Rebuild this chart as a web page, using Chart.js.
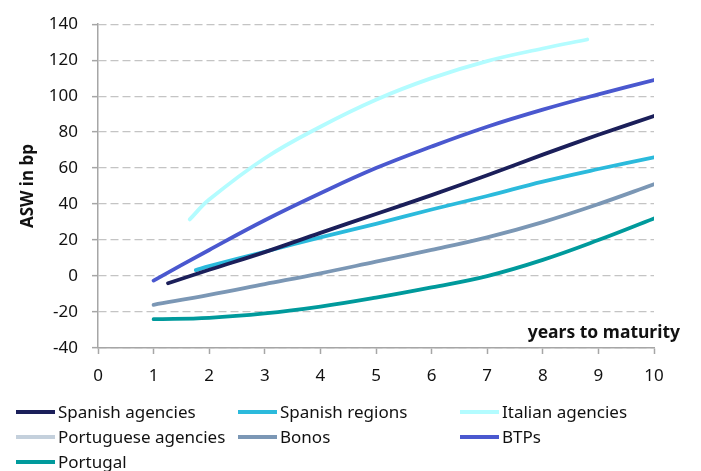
<!DOCTYPE html>
<html lang="en">
<head>
  <meta charset="UTF-8" />
  <title>ASW curves</title>
  <script src="https://cdn.jsdelivr.net/npm/chart.js"></script>
  <style>
    body { margin: 0; background: #fff; }
    #wrap { position: relative; width: 701px; height: 471px; font-family: "Noto Sans", sans-serif; color: #111; }
    #wrap canvas { position: absolute; left: 0; top: 0; }
    #xtitle { position: absolute; right: 21px; top: 319px; font-weight: bold; font-size: 17.5px; line-height: 24px; }
    #legend { position: absolute; left: 16px; top: 399px; display: grid; grid-template-columns: 222px 222px 222px; font-size: 17px; }
    .item { display: flex; align-items: center; height: 25px; white-space: nowrap; }
    .swatch { width: 39px; height: 4px; margin-right: 3px; flex: none; }
  </style>
</head>
<body>
  <div id="wrap">
    <canvas id="aswChart" width="701" height="471"></canvas>
    <div id="xtitle">years to maturity</div>
    <div id="legend"></div>
  </div>

  <script>
    // maturities (years) and ASW levels (bp)
    const years = [1, 2, 3, 4, 5, 6, 7, 8, 9, 10];

    const spanishAgenciesX = [1.26, 2, 3, 4, 5, 6, 7, 8, 9, 10];
    const spanishAgencies = [-4, 3.5, 13.3, 24, 34.5, 45, 56, 67.5, 78.5, 89];

    const spanishRegionsX = [1.76, 2, 3, 4, 5, 6, 7, 8, 9, 10];
    const spanishRegions = [3.3, 5.5, 13.5, 21.5, 29, 37, 44.5, 52.5, 59.5, 66];

    const italianAgenciesX = [1.65, 2, 3, 4, 5, 6, 7, 8, 8.8];
    const italianAgencies = [31.5, 42.5, 65.5, 83, 98, 110, 119.5, 126.5, 131.5];

    const portugueseAgenciesX = [];
    const portugueseAgencies = [];

    const bonos = [-16, -10.5, -4.5, 1.5, 8, 14.5, 21.5, 30, 40, 51];
    const btps = [-2.5, 14.5, 31, 46, 60, 72, 83, 92.5, 101, 109];
    const portugal = [-24, -23.2, -20.8, -17, -12, -6.3, 0, 9, 20, 32];

    const yTicks = [-40, -20, 0, 20, 40, 60, 80, 100, 120, 140];

    function pts(xs, ys) {
      return ys.map((v, i) => ({ x: xs[i], y: v }));
    }

    const series = [
      { label: "Spanish agencies", data: pts(spanishAgenciesX, spanishAgencies), color: "#1b1f5a" },
      { label: "Spanish regions", data: pts(spanishRegionsX, spanishRegions), color: "#2bbadc" },
      { label: "Italian agencies", data: pts(italianAgenciesX, italianAgencies), color: "#b3fcff" },
      { label: "Portuguese agencies", data: pts(portugueseAgenciesX, portugueseAgencies), color: "#c4d0dc" },
      { label: "Bonos", data: pts(years, bonos), color: "#7b97b5" },
      { label: "BTPs", data: pts(years, btps), color: "#4a58cf" },
      { label: "Portugal", data: pts(years, portugal), color: "#009a9c" }
    ];

    const tickFont = { family: "Noto Sans", size: 17 };

    const ctx = document.getElementById("aswChart").getContext("2d");
    const chart = new Chart(ctx, {
      type: "line",
      data: {
        datasets: series.map(s => ({
          label: s.label,
          data: s.data,
          borderColor: s.color,
          backgroundColor: s.color,
          borderWidth: 3.8,
          borderCapStyle: "round",
          pointRadius: 0,
          tension: 0.4,
          fill: false
        }))
      },
      options: {
        responsive: false,
        animation: false,
        layout: { padding: { top: 20, right: 47, left: 0, bottom: 0 } },
        plugins: {
          legend: { display: false },
          tooltip: { enabled: false }
        },
        scales: {
          x: {
            type: "linear",
            min: 0,
            max: 10,
            ticks: { stepSize: 1, color: "#111", font: tickFont, padding: 12 },
            grid: { drawOnChartArea: false, tickLength: 6, tickColor: "#a6a6a6", tickWidth: 1.5 },
            border: { color: "#a6a6a6", width: 1.5 },
            afterFit: s => { s.height = 123; }
          },
          y: {
            min: -40,
            max: 140,
            afterBuildTicks: s => { s.ticks = yTicks.map(v => ({ value: v })); },
            ticks: { color: "#111", font: tickFont, padding: 14 },
            grid: { color: "#c4c4c4", lineWidth: 1.3, tickLength: 6, tickColor: "#a6a6a6", tickWidth: 1.5, tickBorderDash: [] },
            border: { color: "#a6a6a6", width: 1.5, dash: [8, 4] },
            title: {
              display: true,
              text: "ASW in bp",
              color: "#111",
              font: { family: "Noto Sans", size: 17, weight: "bold" },
              padding: { top: 18, bottom: 0 }
            },
            afterFit: s => { s.width = 98; }
          }
        }
      }
    });

    // legend in three columns, like the original
    const legend = document.getElementById("legend");
    chart.data.datasets.forEach(ds => {
      legend.innerHTML += `
        <div class="item"><span class="swatch" style="background:${ds.borderColor}"></span>${ds.label}</div>
      `;
    });
  </script>
</body>
</html>
